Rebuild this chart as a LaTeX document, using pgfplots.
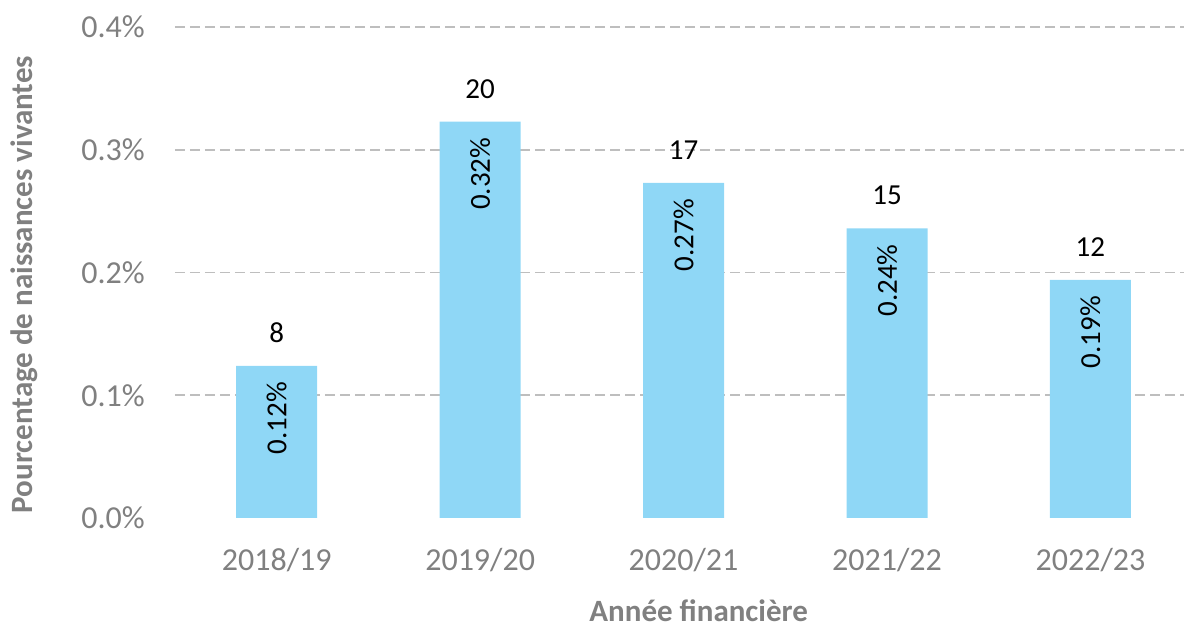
\documentclass[border=0pt]{standalone}
\usepackage{fontspec}
\setmainfont{Carlito}
\usepackage{pgfplots}
\pgfplotsset{compat=1.18}
\usepackage{pgfplotstable}
\definecolor{barblue}{RGB}{143,215,246}
\definecolor{txtgray}{RGB}{128,128,128}
\definecolor{gridgray}{RGB}{190,190,190}
\pgfplotstableread{
x y n p
0 0.124 8 0.12\%
1 0.323 20 0.32\%
2 0.273 17 0.27\%
3 0.236 15 0.24\%
4 0.194 12 0.19\%
}\data
\begin{document}
\begin{tikzpicture}
\begin{axis}[
  scale only axis,
  width=1009pt, height=491pt,
  xmin=-0.5, xmax=4.46,
  ymin=0, ymax=0.4,
  axis line style={draw=none},
  major tick length=0pt,
  xtick={0,1,2,3,4},
  xticklabels={2018/19,2019/20,2020/21,2021/22,2022/23},
  ytick={0.1,0.2,0.3,0.4},
  yticklabels={0.1\%,0.2\%,0.3\%,0.4\%},
  extra y ticks={0},
  extra y tick labels={0.0\%},
  extra y tick style={grid=none},
  ymajorgrids,
  grid style={gridgray, line width=1.6pt, dash pattern=on 10pt off 5pt},
  /pgf/number format/assume math mode=true,
  ticklabel style={font=\fontsize{32}{38}\selectfont, text=txtgray, inner sep=0pt},
  yticklabel style={anchor=east, xshift=-30pt},
  xticklabel style={anchor=north, yshift=-30pt},
  xlabel={\textbf{Année financière}},
  ylabel={\textbf{Pourcentage de naissances vivantes}},
  xlabel style={at={(axis description cs:0.519,-0.2118)}, anchor=base, inner sep=0pt, font=\fontsize{31}{37}\selectfont, text=txtgray},
  ylabel style={at={(axis description cs:-0.1417,0.4756)}, anchor=base, inner sep=0pt, rotate=0, font=\fontsize{31}{37}\selectfont, text=txtgray},
  clip=false,
]
\addplot[ybar, bar width=81pt, bar shift=0pt, fill=barblue, draw=none,
  nodes near coords={\pgfplotspointmeta},
  point meta=explicit symbolic,
  every node near coord/.style={font=\fontsize{29}{35}\selectfont, text=black, anchor=south, inner sep=0pt, yshift=23pt}]
  table[x=x, y=y, meta=n] {\data};
\addplot[draw=none, mark=none,
  nodes near coords={\pgfplotspointmeta},
  point meta=explicit symbolic,
  every node near coord/.style={font=\fontsize{29}{35}\selectfont, text=black, yshift=-16pt, rotate=90, anchor=east, inner sep=0pt}]
  table[x=x, y=y, meta=p] {\data};
\end{axis}
\pgfresetboundingbox
\path (-175pt,-110pt) rectangle (1009pt,518pt);
\end{tikzpicture}
\end{document}
